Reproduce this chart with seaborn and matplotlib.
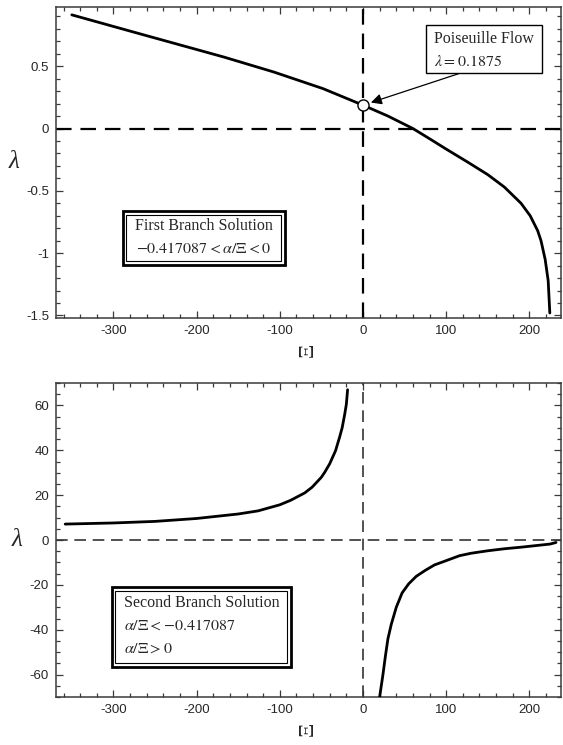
import numpy as np
import pandas as pd
import seaborn as sns
import matplotlib
matplotlib.use("Agg")
import matplotlib.pyplot as plt
from matplotlib.patches import Rectangle
from matplotlib.ticker import MultipleLocator, FuncFormatter

# ---------------- data ----------------
# first branch (top panel)
xi_first = [-350, -300, -258, -200, -167, -107, -48, 0, 30, 60, 82, 100, 126,
            150, 170, 190, 201, 210, 214, 219, 222.6, 224.6]
lam_first = [0.912, 0.819, 0.741, 0.634, 0.573, 0.453, 0.32, 0.1875, 0.10, 0.0,
             -0.09, -0.165, -0.27, -0.37, -0.47, -0.60, -0.70, -0.82, -0.90,
             -1.05, -1.22, -1.48]

# second branch (bottom panel), left and right parts
xi_second_left = [-358, -300, -250, -200, -150, -126, -100, -87, -70, -61, -50,
                  -46, -40, -33, -28, -25, -22, -20, -18.5]
lam_second_left = [7.1, 7.6, 8.3, 9.6, 11.6, 13.0, 15.7, 17.7, 21.0, 23.6, 28.0,
                   30.2, 34.0, 39.8, 46.0, 50.1, 56.0, 60.5, 67.0]
xi_second_right = [20, 24, 27, 30, 34, 40, 47, 55, 64, 75, 86, 100, 116, 130,
                   150, 170, 190, 210, 225, 232]
lam_second_right = [-70, -60, -51.6, -44, -37.6, -30, -23.6, -19.5, -16.2, -13.5,
                    -11.1, -9.2, -7.0, -5.9, -4.8, -3.9, -3.2, -2.4, -1.8, -1.1]

# Poiseuille point
xi_pois = [0]
lam_pois = [0.1875]

top_yticks = [-1.5, -1.0, -0.5, 0.0, 0.5]
bot_yticks = [-60, -40, -20, 0, 20, 40, 60]
xticks = [-300, -200, -100, 0, 100, 200]

# ---------------- style ----------------
sns.set_style("ticks")
plt.rcParams['font.family'] = ['Liberation Sans', 'DejaVu Sans']
plt.rcParams['mathtext.fontset'] = 'stix'
plt.rcParams['axes.unicode_minus'] = False

SERIF = ['Liberation Serif', 'DejaVu Serif']
SPINE = '#3a3a3a'

fig = plt.figure(figsize=(5.63, 7.45), dpi=100)
ax1 = fig.add_axes([0.0995, 0.5732, 0.8969, 0.4174])
ax2 = fig.add_axes([0.0995, 0.0644, 0.8969, 0.4215])

def fmt(v, pos):
    return ('%g' % v)

def style_axes(ax, ymajor, yminor):
    for s in ax.spines.values():
        s.set_color(SPINE)
        s.set_linewidth(1.1)
    ax.set_xticks(xticks)
    ax.xaxis.set_minor_locator(MultipleLocator(20))
    ax.set_yticks(ymajor)
    ax.yaxis.set_minor_locator(MultipleLocator(yminor))
    ax.yaxis.set_major_formatter(FuncFormatter(fmt))
    ax.tick_params(which='both', direction='in', top=True, right=True,
                   color=SPINE, width=0.9)
    ax.tick_params(which='major', length=5, labelsize=9.5, pad=5)
    ax.tick_params(which='minor', length=3)
    ax.set_xlabel('Ξ', family=SERIF, fontsize=16, rotation=90, labelpad=4)
    ax.set_ylabel('λ', family=SERIF, fontstyle='italic', fontsize=18,
                  rotation=0, labelpad=9, va='center')

# ---------------- top panel ----------------
df1 = pd.DataFrame({'xi': xi_first, 'lam': lam_first})
ax1.axhline(0, color='black', lw=1.6, dashes=(7, 4), zorder=1)
ax1.axvline(0, color='black', lw=1.6, dashes=(7, 4), zorder=1)
sns.lineplot(data=df1, x='xi', y='lam', ax=ax1, color='black', lw=2.0,
             sort=False, estimator=None, zorder=3)
ax1.plot(xi_pois, lam_pois, 'o', ms=8, mfc='white', mec='black', mew=1.0,
         zorder=5)
ax1.set_xlim(-369, 238)
ax1.set_ylim(-1.52, 0.975)
style_axes(ax1, top_yticks, 0.1)

# Poiseuille annotation box
ax1.add_patch(Rectangle((76, 0.445), 139, 0.382, fill=True, fc='white',
                        ec='black', lw=1.0, zorder=6))
ax1.text(85, 0.72, 'Poiseuille Flow', family=SERIF, fontsize=11.5,
         va='center', ha='left', zorder=7)
ax1.text(85, 0.533, r'$\lambda = 0.1875$', family=SERIF, fontsize=11.5,
         va='center', ha='left', zorder=7)
ax1.annotate('', xy=(xi_pois[0], lam_pois[0]), xytext=(115, 0.44),
             arrowprops=dict(arrowstyle='-|>', color='black', lw=0.9,
                             mutation_scale=16, shrinkA=0, shrinkB=6),
             zorder=6)

# First branch box (double frame)
ax1.add_patch(Rectangle((-289, -1.099), 195, 0.44, fill=True, fc='white',
                        ec='black', lw=2.0, zorder=6))
ax1.add_patch(Rectangle((-289 + 4.5, -1.099 + 0.034), 195 - 9, 0.44 - 0.068,
                        fill=False, ec='black', lw=0.8, zorder=7))
ax1.text(-191.5, -0.785, 'First Branch Solution', family=SERIF, fontsize=11.5,
         va='center', ha='center', zorder=8)
ax1.text(-191.5, -0.965, r'$-0.417087 < \alpha/\Xi < 0$', family=SERIF,
         fontsize=11.5, va='center', ha='center', zorder=8)

# ---------------- bottom panel ----------------
dfl = pd.DataFrame({'xi': xi_second_left, 'lam': lam_second_left})
dfr = pd.DataFrame({'xi': xi_second_right, 'lam': lam_second_right})
ax2.axhline(0, color='#333333', lw=1.2, dashes=(7, 4), zorder=1)
ax2.axvline(0, color='#333333', lw=1.2, dashes=(7, 4), zorder=1)
sns.lineplot(data=dfl, x='xi', y='lam', ax=ax2, color='black', lw=2.0,
             sort=False, estimator=None, zorder=3)
sns.lineplot(data=dfr, x='xi', y='lam', ax=ax2, color='black', lw=2.0,
             sort=False, estimator=None, zorder=3)
ax2.set_xlim(-369, 238)
ax2.set_ylim(-70, 70)
style_axes(ax2, bot_yticks, 5)

ax2.add_patch(Rectangle((-302, -56.5), 215, 35.6, fill=True, fc='white',
                        ec='black', lw=2.0, zorder=6))
ax2.add_patch(Rectangle((-302 + 4.5, -56.5 + 1.8), 215 - 9, 35.6 - 3.6,
                        fill=False, ec='black', lw=0.8, zorder=7))
ax2.text(-287, -28, 'Second Branch Solution', family=SERIF, fontsize=11.5,
         va='center', ha='left', zorder=8)
ax2.text(-287, -38.3, r'$\alpha/\Xi < -0.417087$', family=SERIF, fontsize=11.5,
         va='center', ha='left', zorder=8)
ax2.text(-287, -48.4, r'$\alpha/\Xi > 0$', family=SERIF, fontsize=11.5,
         va='center', ha='left', zorder=8)

fig.savefig('out.png', dpi=100)
